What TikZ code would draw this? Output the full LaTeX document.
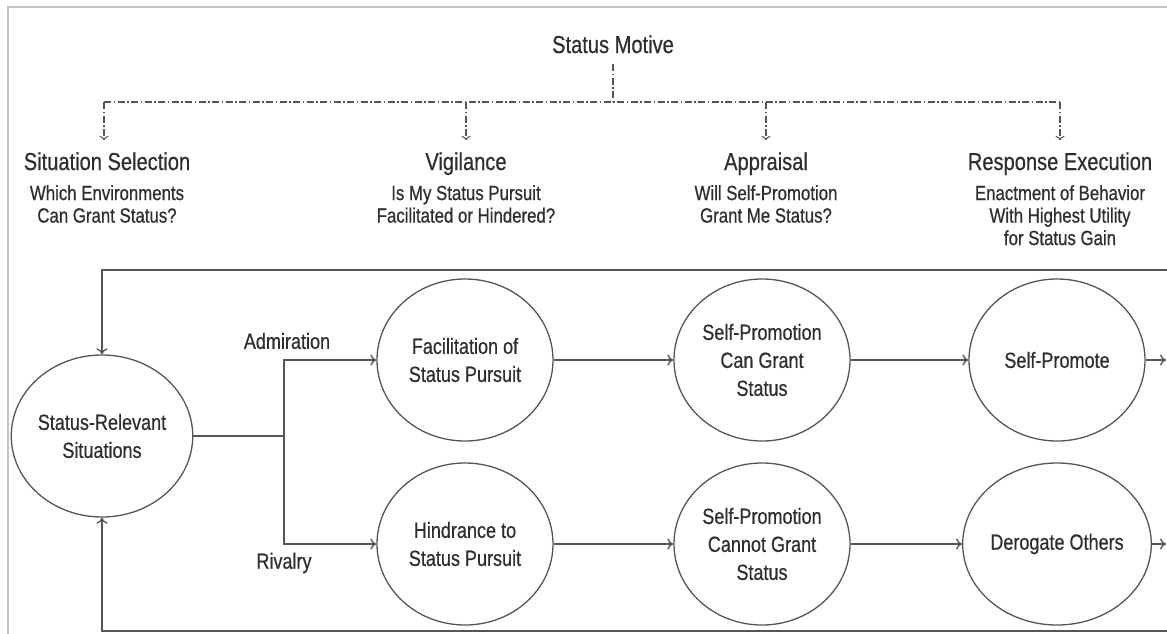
\documentclass[tikz,border=0pt]{standalone}
\usepackage{fontspec}
\setmainfont{Liberation Sans}[FakeStretch=0.82,FakeBold=0.6]
\usetikzlibrary{shapes.geometric,arrows.meta}
\definecolor{ink}{HTML}{2E2E2E}
\definecolor{wire}{HTML}{555555}
\definecolor{rule}{HTML}{C4C4C4}

\begin{document}
\begin{tikzpicture}[x=1pt,y=-1pt,
  circ/.style={ellipse,draw=wire,line width=1.3pt,minimum width=176pt,minimum height=162pt,
    inner sep=0pt,align=center,text=ink,font=\fontsize{22}{28}\selectfont},
  head/.style={inner sep=0pt,text=ink,font=\fontsize{24.5}{30}\selectfont},
  sub/.style={inner sep=0pt,align=center,text=ink,font=\fontsize{20.5}{22.5}\selectfont},
  lbl/.style={inner sep=0pt,text=ink,font=\fontsize{22}{26}\selectfont},
  flow/.style={draw=wire,line width=1.3pt,-{To[length=6pt,width=11pt]}},
  wire/.style={draw=wire,line width=1.3pt},
  dashdot/.style={draw=wire,line width=1.1pt,dash pattern=on 7pt off 2.5pt on 1.5pt off 2.5pt},
]
\useasboundingbox (0,0) rectangle (1167,634);

\begin{scope}
\coordinate (hub) at (613,102);
\coordinate (l1) at (104,102);
\coordinate (l4) at (1060,102);
\coordinate (fork) at (284,436);
\coordinate (topR) at (1172,270);
\coordinate (botR) at (1172,631);
\coordinate (promOut) at (1166,360);
\coordinate (derogOut) at (1166,544);

\draw[rule,line width=2pt] (1175,7) -- (8,7) -- (8,640);

\node[head,anchor=base] (motive) at (613,53) {Status Motive};
\node[head,anchor=base] (sel) at (107,170) {Situation Selection};
\node[head,anchor=base] (vig) at (466,170) {Vigilance};
\node[head,anchor=base] (app) at (766,170) {Appraisal};
\node[head,anchor=base] (resp) at (1060,170) {Response Execution};
\node[sub,anchor=north] (selq) at (107,185) {Which Environments\\Can Grant Status?};
\node[sub,anchor=north] (vigq) at (466,185) {Is My Status Pursuit\\Facilitated or Hindered?};
\node[sub,anchor=north] (appq) at (766,185) {Will Self-Promotion\\Grant Me Status?};
\node[sub,anchor=north] (respq) at (1060,185) {Enactment of Behavior\\With Highest Utility\\for Status Gain};

\draw[dashdot,shorten <=11pt] (motive.south) -- (hub);
\draw[dashdot] (l1) -- (l4);
\draw[dashdot,-{To[length=4pt,width=9pt]}] (l1) -- (l1 |- 0,140);
\draw[dashdot,-{To[length=4pt,width=9pt]}] (vig.north |- l1) -- (vig.north |- 0,140);
\draw[dashdot,-{To[length=4pt,width=9pt]}] (app.north |- l1) -- (app.north |- 0,140);
\draw[dashdot,-{To[length=4pt,width=9pt]}] (l4) -- (l4 |- 0,140);

\node[circ] (srs) at (102,436) {Status-Relevant\\Situations};
\node[circ] (fac) at (465,360) {Facilitation of\\Status Pursuit};
\node[circ] (hin) at (465,544) {Hindrance to\\Status Pursuit};
\node[circ] (cang) at (762,360) {Self-Promotion\\Can Grant\\Status};
\node[circ] (cant) at (762,544) {Self-Promotion\\Cannot Grant\\Status};
\node[circ] (prom) at (1057,360) {Self-Promote};
\node[circ] (derog) at (1057,544) {Derogate Others};

\node[lbl] (adm) at (287,341) {Admiration};
\node[lbl] (riv) at (284,563) {Rivalry};

\draw[flow] (topR) -| (srs.north);
\draw[flow] (botR) -| (srs.south);
\draw[wire] (srs.east) -- (fork);
\draw[flow] (fork) |- (fac.west);
\draw[flow] (fork) |- (hin.west);
\draw[flow] (fac) -- (cang);
\draw[flow] (hin) -- (cant);
\draw[flow] (cang) -- (prom);
\draw[flow] (cant) -- (derog);
\draw[flow] (prom) -- (promOut);
\draw[flow] (derog) -- (derogOut);

\end{scope}

\end{tikzpicture}
\end{document}
